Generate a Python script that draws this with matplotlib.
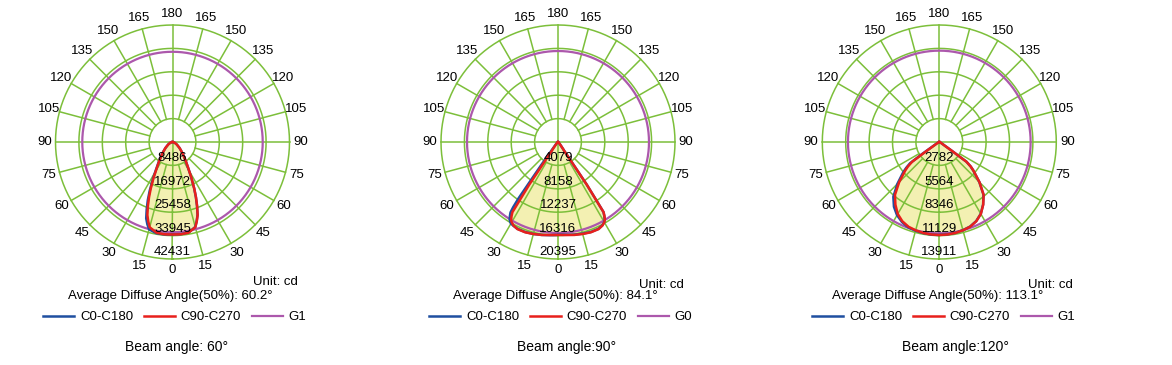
import numpy as np
import matplotlib
matplotlib.use("Agg")
import matplotlib.pyplot as plt
from matplotlib.transforms import ScaledTranslation

plt.rcParams['font.family'] = ['Liberation Sans', 'DejaVu Sans']

# ---- chart 1: beam angle 60 ----
angles1 = [0, 5, 10, 15, 17, 19, 21, 23, 25, 28, 31, 35, 40, 45, 50, 60, 70, 80, 90]
red1 = [33550, 33600, 33400, 32000, 30100, 28000, 24900, 21800, 18700, 14500,
        11130, 8400, 6000, 4400, 3300, 1800, 900, 350, 0]
blue1_c0 = [33500, 33550, 33350, 31900, 30000, 27900, 24800, 21700, 18600, 14400,
            11050, 8350, 5950, 4350, 3250, 1780, 890, 340, 0]
blue1_c180 = [33550, 33650, 33600, 32800, 31200, 29300, 26100, 22900, 19600, 15100,
              11500, 8600, 6100, 4400, 3300, 1800, 900, 350, 0]
g1 = 32720
rings1 = [8486, 16972, 25458, 33945, 42431]

# ---- chart 2: beam angle 90 ----
angles2 = [0, 5, 10, 15, 20, 25, 28, 30, 31, 32, 33, 34, 34.5, 35, 36, 38, 40, 45, 50, 60, 70, 80, 90]
red2 = [16200, 16280, 16450, 16600, 16750, 16750, 16500, 16150, 15850, 15300, 14600,
        9000, 3500, 2000, 1500, 900, 600, 350, 200, 100, 50, 20, 0]
blue2_c0 = [16150, 16230, 16400, 16550, 16700, 16700, 16450, 16100, 15800, 15250, 14550,
            8950, 3450, 1980, 1480, 890, 590, 340, 190, 100, 50, 20, 0]
blue2_c180 = [16200, 16300, 16450, 16600, 16700, 16700, 16550, 16400, 16200, 15900, 15400,
              14800, 13800, 12000, 5000, 1500, 800, 400, 200, 100, 50, 20, 0]
g2 = 15860
rings2 = [4079, 8158, 12237, 16316, 20395]

# ---- chart 3: beam angle 120 ----
angles3 = [0, 5, 10, 15, 20, 25, 30, 35, 40, 45, 50, 52, 54, 55, 56, 58, 60, 70, 80, 90]
red3 = [11060, 11040, 10980, 10870, 10720, 10400, 9880, 9100, 8200, 6750, 5300,
        4750, 4000, 1700, 800, 450, 300, 120, 40, 0]
blue3_c0 = [11040, 11020, 10960, 10850, 10700, 10380, 9860, 9080, 8180, 6730, 5280,
            4730, 3980, 1690, 790, 440, 290, 120, 40, 0]
blue3_c180 = [11060, 11050, 11000, 10920, 10800, 10500, 10050, 9400, 8500, 7050, 5600,
              5000, 4300, 2600, 1200, 600, 350, 140, 45, 0]
g3 = 10860
rings3 = [2782, 5564, 8346, 11129, 13911]

angle_ticks = list(range(0, 360, 15))

GREEN = '#7cbf3a'
PURPLE = '#ac58ac'
BLUE = '#1f4fa0'
RED = '#e8201c'
FILL = '#f3f0b2'
FS = 9.5

W, H = 1172, 365
R = 117
CY = 142

fig = plt.figure(figsize=(W / 100, H / 100), dpi=100)


def mirror(angles, right, left):
    a = np.deg2rad(np.array(angles, dtype=float))
    theta = np.concatenate([-a[::-1], a])
    r = np.concatenate([np.array(left)[::-1], np.array(right)])
    return theta, r


def draw_chart(cx, angles, red, blue_c0, blue_c180, g, rings, gname):
    ax = fig.add_axes([(cx - R) / W, (H - CY - R) / H, 2 * R / W, 2 * R / H],
                      projection='polar')
    ax.set_theta_zero_location('S')
    ax.set_ylim(0, rings[-1])
    ax.set_axis_off()

    # filled area under the C90-C270 curve
    th, rr = mirror(angles, red, red)
    ax.fill(th, rr, color=FILL, lw=0, zorder=1)

    # grid
    full = np.linspace(0, 2 * np.pi, 361)
    for rv in rings:
        ax.plot(full, np.full_like(full, rv), color=GREEN, lw=1.1, zorder=2, clip_on=False)
    for a in angle_ticks:
        t = np.deg2rad(a)
        r0 = 0 if a % 90 == 0 else rings[0]
        ax.plot([t, t], [r0, rings[-1]], color=GREEN, lw=1.1, zorder=2, clip_on=False)

    # curves
    lg, = ax.plot(full, np.full_like(full, g), color=PURPLE, lw=1.6, zorder=3)
    th_b, r_b = mirror(angles, blue_c0, blue_c180)
    lb, = ax.plot(th_b, r_b, color=BLUE, lw=1.8, zorder=4)
    lr, = ax.plot(th, rr, color=RED, lw=1.8, zorder=5)

    # angle labels
    for a in angle_ticks:
        lab = a if a <= 180 else 360 - a
        ax.text(np.deg2rad(a), rings[-1] * 1.095, str(lab), ha='center', va='center',
                fontsize=FS, clip_on=False)

    # ring value labels
    up = ax.transData + ScaledTranslation(0, 7 / 100, fig.dpi_scale_trans)
    for rv in rings:
        ax.text(0, rv, str(rv), transform=up, ha='center', va='center', fontsize=FS,
                zorder=6, clip_on=False)

    return [lb, lr, lg]


charts = [
    (172.5, angles1, red1, blue1_c0, blue1_c180, g1, rings1, 'G1', '60.2', 'Beam angle: 60°',
     (253, 282), 68, 43, 177),
    (558, angles2, red2, blue2_c0, blue2_c180, g2, rings2, 'G0', '84.1', 'Beam angle:90°',
     (639, 285), 453, 429, 567),
    (939.3, angles3, red3, blue3_c0, blue3_c180, g3, rings3, 'G1', '113.1', 'Beam angle:120°',
     (1028, 285), 832, 812, 955),
]

for (cx, ang, red, b0, b180, g, rings, gname, diff, beam, unit_pos, avg_x, leg_x, beam_x) in charts:
    handles = draw_chart(cx, ang, red, b0, b180, g, rings, gname)
    fig.text(unit_pos[0] / W, 1 - unit_pos[1] / H, 'Unit: cd', fontsize=FS,
             ha='left', va='center')
    fig.text(avg_x / W, 1 - 296 / H, 'Average Diffuse Angle(50%): ' + diff + '°',
             fontsize=FS, ha='left', va='center')
    fig.legend(handles, ['C0-C180', 'C90-C270', gname], loc='center left',
               bbox_to_anchor=(leg_x / W, 1 - 317 / H), ncol=3, frameon=False,
               fontsize=FS, handlelength=2.35, handletextpad=0.45, columnspacing=0.8,
               borderpad=0, borderaxespad=0)
    fig.text(beam_x / W, 1 - 347 / H, beam, fontsize=10, ha='center', va='center')

fig.savefig('out.png', dpi=100)
